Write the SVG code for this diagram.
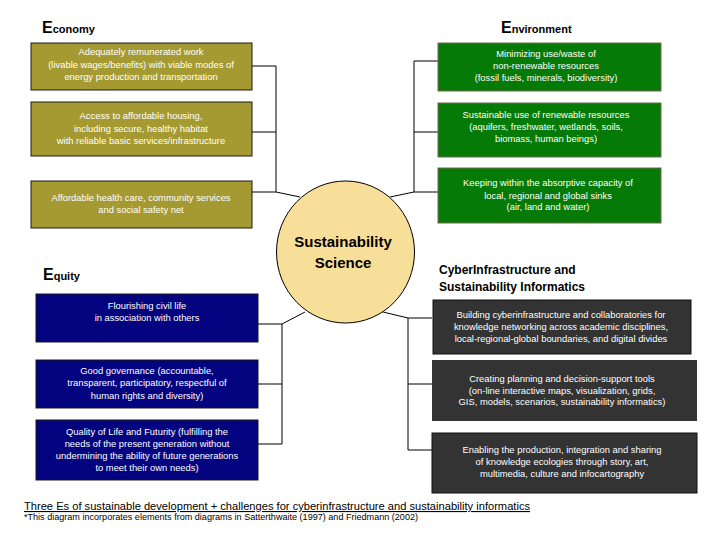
<svg xmlns="http://www.w3.org/2000/svg" width="720" height="540" viewBox="0 0 720 540">
<style>
.eco{fill:#A59A32;stroke:#1a1a1a;stroke-width:1}
.env{fill:#067A06;stroke:#6E6A48;stroke-width:1}
.equ{fill:#03037F;stroke:#1a1a1a;stroke-width:1}
.cyb{fill:#333333;stroke:#111;stroke-width:1}
.bt{font-family:"Liberation Sans",Arial,sans-serif;font-size:9.4px;fill:#fff;text-anchor:middle}
.hd{font-family:"Liberation Sans",Arial,sans-serif;font-weight:bold;fill:#000}
.big{font-size:16px}
.sm{font-size:11px}
.con{fill:none;stroke:#000;stroke-width:1}
</style>
<rect width="720" height="540" fill="#fff"/>

<g id="connectors">
<polyline class="con" points="252,66 276,66 276,192 300,197"/>
<line class="con" x1="252" y1="132" x2="276" y2="132"/>
<line class="con" x1="252" y1="192" x2="276" y2="192"/>
<polyline class="con" points="438,61 414,61 414,192 390,197"/>
<line class="con" x1="414" y1="132" x2="438" y2="132"/>
<line class="con" x1="414" y1="192" x2="438" y2="192"/>
<polyline class="con" points="258,324 282,324 282,444 258,444"/>
<line class="con" x1="282" y1="324" x2="305" y2="312"/>
<line class="con" x1="258" y1="384" x2="282" y2="384"/>
<polyline class="con" points="432,318 408,318 408,450 432,450"/>
<line class="con" x1="408" y1="318" x2="383" y2="312"/>
<line class="con" x1="408" y1="384" x2="432" y2="384"/>
</g>

<g id="center">
<ellipse cx="345.5" cy="252" rx="69" ry="71" fill="#F8DF99" stroke="#000" stroke-width="1"/>
<text class="hd" x="343" y="247" font-size="15" text-anchor="middle">Sustainability</text>
<text class="hd" x="343" y="268" font-size="15" text-anchor="middle">Science</text>
</g>

<g id="title-economy"><text class="hd" x="42" y="33"><tspan class="big">E</tspan><tspan class="sm">conomy</tspan></text></g>
<g id="title-environment"><text class="hd" x="501" y="33"><tspan class="big">E</tspan><tspan class="sm">nvironment</tspan></text></g>
<g id="title-equity"><text class="hd" x="43" y="280"><tspan class="big">E</tspan><tspan class="sm">quity</tspan></text></g>
<g id="title-cyber"><text class="hd" x="439" y="274" font-size="12">CyberInfrastructure and</text><text class="hd" x="439" y="291" font-size="12">Sustainability Informatics</text></g>

<g id="eco1"><rect class="eco" x="31" y="43" width="221" height="47"/>
<text class="bt" x="141" y="55">Adequately remunerated work</text>
<text class="bt" x="141" y="68">(livable wages/benefits) with viable modes of</text>
<text class="bt" x="141" y="80">energy production and transportation</text></g>
<g id="eco2"><rect class="eco" x="31" y="102" width="221" height="54"/>
<text class="bt" x="141" y="119">Access to affordable housing,</text>
<text class="bt" x="141" y="132">including secure, healthy habitat</text>
<text class="bt" x="141" y="144">with reliable basic services/infrastructure</text></g>
<g id="eco3"><rect class="eco" x="31" y="181" width="221" height="47"/>
<text class="bt" x="141" y="201">Affordable health care, community services</text>
<text class="bt" x="141" y="213">and social safety net</text></g>

<g id="env1"><rect class="env" x="438" y="43" width="223" height="48"/>
<text class="bt" x="546" y="57">Minimizing use/waste of</text>
<text class="bt" x="546" y="69">non-renewable resources</text>
<text class="bt" x="546" y="81">(fossil fuels, minerals, biodiversity)</text></g>
<g id="env2"><rect class="env" x="438" y="103" width="223" height="54"/>
<text class="bt" x="546" y="118">Sustainable use of renewable resources</text>
<text class="bt" x="546" y="130">(aquifers, freshwater, wetlands, soils,</text>
<text class="bt" x="546" y="142">biomass, human beings)</text></g>
<g id="env3"><rect class="env" x="438" y="168" width="223" height="55"/>
<text class="bt" x="548" y="186">Keeping within the absorptive capacity of</text>
<text class="bt" x="548" y="199">local, regional and global sinks</text>
<text class="bt" x="548" y="210">(air, land and water)</text></g>

<g id="equ1"><rect class="equ" x="36" y="294" width="222" height="48"/>
<text class="bt" x="147" y="309">Flourishing civil life</text>
<text class="bt" x="147" y="321">in association with others</text></g>
<g id="equ2"><rect class="equ" x="36" y="360" width="222" height="48"/>
<text class="bt" x="147" y="374">Good governance (accountable,</text>
<text class="bt" x="147" y="386">transparent, participatory, respectful of</text>
<text class="bt" x="147" y="399">human rights and diversity)</text></g>
<g id="equ3"><rect class="equ" x="36" y="420" width="222" height="60"/>
<text class="bt" x="147" y="435">Quality of Life and Futurity (fulfilling the</text>
<text class="bt" x="147" y="447">needs of the present generation without</text>
<text class="bt" x="147" y="459">undermining the ability of future generations</text>
<text class="bt" x="147" y="471">to meet their own needs)</text></g>

<g id="cyb1"><rect class="cyb" x="433" y="300" width="258" height="54"/>
<text class="bt" x="561" y="318">Building cyberinfrastructure and collaboratories for</text>
<text class="bt" x="561" y="330">knowledge networking across academic disciplines,</text>
<text class="bt" x="561" y="342">local-regional-global boundaries, and digital divides</text></g>
<g id="cyb2"><rect x="432" y="360" width="265" height="61" fill="#333333"/>
<text class="bt" x="562" y="382">Creating planning and decision-support tools</text>
<text class="bt" x="562" y="394">(on-line interactive maps, visualization, grids,</text>
<text class="bt" x="562" y="405">GIS, models, scenarios, sustainability informatics)</text></g>
<g id="cyb3"><rect class="cyb" x="432" y="433" width="265" height="60"/>
<text class="bt" x="562" y="453">Enabling the production, integration and sharing</text>
<text class="bt" x="562" y="465">of knowledge ecologies through story, art,</text>
<text class="bt" x="562" y="477">multimedia, culture and infocartography</text></g>

<g id="footer">
<text x="24" y="510" font-family="'Liberation Sans',Arial,sans-serif" font-size="11" textLength="506" lengthAdjust="spacingAndGlyphs" text-decoration="underline" fill="#000">Three Es of sustainable development + challenges for cyberinfrastructure and sustainability informatics</text>
<text x="24" y="520" font-family="'Liberation Sans',Arial,sans-serif" font-size="8.6" textLength="394" lengthAdjust="spacingAndGlyphs" fill="#000">*This diagram incorporates elements from diagrams in Satterthwaite (1997) and Friedmann (2002)</text>
</g>
</svg>
